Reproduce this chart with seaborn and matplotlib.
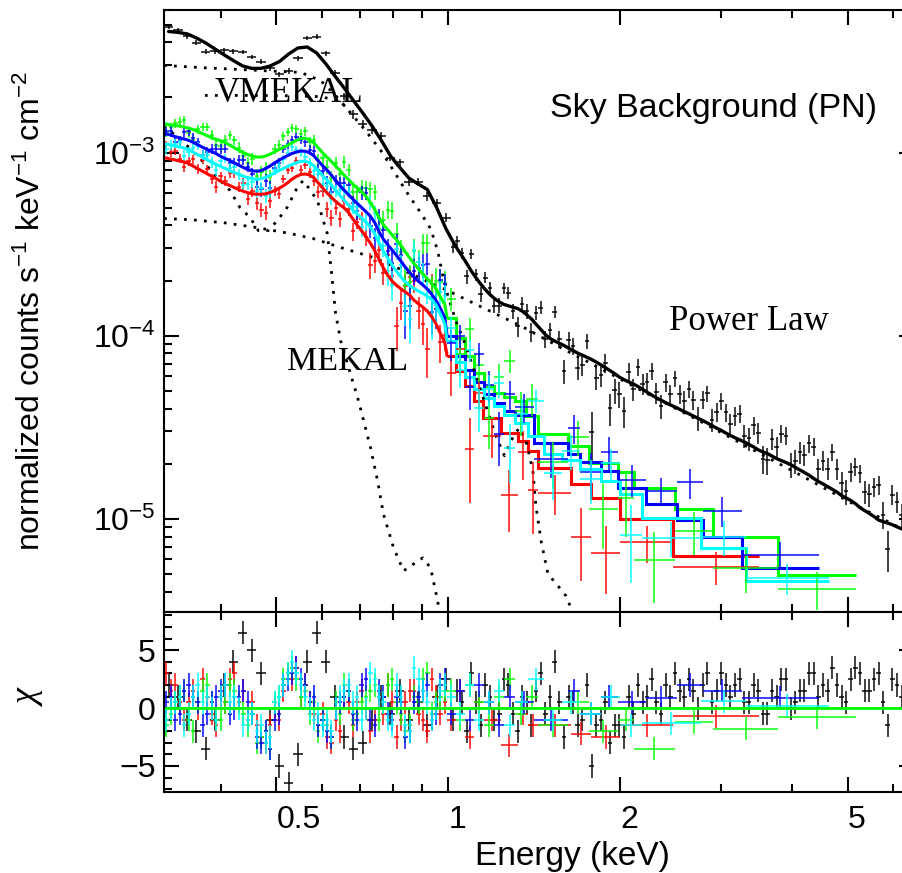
import numpy as np
import matplotlib
matplotlib.use("Agg")
import matplotlib.pyplot as plt
import matplotlib.ticker as mticker
import seaborn as sns

sns.set_theme(style="ticks")
plt.rcParams["font.family"] = ["Liberation Sans", "DejaVu Sans"]
plt.rcParams["mathtext.fontset"] = "custom"
plt.rcParams["mathtext.rm"] = "Liberation Sans"
plt.rcParams["mathtext.it"] = "Liberation Sans:italic"
plt.rcParams["mathtext.bf"] = "Liberation Sans:bold"
for key in ["text.color", "axes.labelcolor", "xtick.color", "ytick.color", "axes.edgecolor"]:
    plt.rcParams[key] = "black"

# counts s^-1 keV^-1 cm^-2 are kept in units of 1e-3
scale = 1e-3

# ---- black spectrum (sky background, PN) ----
black_edges = [0.318, 0.330, 0.343, 0.356, 0.369, 0.383, 0.398, 0.413, 0.428, 0.445,
               0.461, 0.479, 0.497, 0.516, 0.535, 0.556, 0.577, 0.599, 0.621, 0.645,
               0.670, 0.695, 0.721, 0.749, 0.777, 0.807, 0.837, 0.869, 0.902, 0.936,
               0.972,
               1.009, 1.028, 1.047, 1.067, 1.087, 1.107, 1.128, 1.149, 1.171, 1.193,
               1.216, 1.239, 1.262, 1.286, 1.310, 1.334, 1.359, 1.385, 1.411, 1.438,
               1.465, 1.492, 1.520, 1.549, 1.578, 1.608, 1.638, 1.669, 1.700, 1.732,
               1.765, 1.798, 1.832, 1.866, 1.901, 1.937, 1.974, 2.011, 2.049, 2.088,
               2.127, 2.167, 2.207, 2.249, 2.291, 2.334, 2.378, 2.423, 2.469, 2.516,
               2.563, 2.611, 2.660, 2.710, 2.761, 2.813, 2.866, 2.920, 2.975, 3.031,
               3.088, 3.146, 3.205, 3.265, 3.327, 3.390, 3.453, 3.518, 3.585, 3.652,
               3.721, 3.791, 3.862, 3.935, 4.009, 4.084, 4.161, 4.239, 4.319, 4.401,
               4.484, 4.568, 4.654, 4.742, 4.831, 4.922, 5.014, 5.109, 5.205, 5.303,
               5.403, 5.505, 5.608, 5.714, 5.821, 5.931, 6.042, 6.156, 6.272, 6.390,
               6.510]
black_model = [4.58, 4.53, 4.44, 4.22, 3.97, 3.68, 3.41, 3.18, 2.97, 2.88,
               2.88, 2.97, 3.14, 3.45, 3.72, 3.77, 3.50, 3.06, 2.62, 2.25,
               1.92, 1.65, 1.40, 1.17, 0.96, 0.83, 0.726, 0.673, 0.628, 0.501,
               0.384,
               0.327, 0.297, 0.272, 0.248, 0.2255, 0.2075, 0.192, 0.179, 0.168, 0.1595,
               0.1530, 0.1482, 0.1455, 0.1430, 0.1407, 0.1362, 0.1300, 0.1233, 0.1155, 0.1083,
               0.1014, 0.0966, 0.0936, 0.0909, 0.0884, 0.0856, 0.0828, 0.0803, 0.0783, 0.0762,
               0.0741, 0.0718, 0.0693, 0.0669, 0.0644, 0.0620, 0.0594, 0.0575, 0.0560, 0.0545,
               0.0528, 0.0510, 0.0491, 0.0474, 0.0458, 0.0444, 0.0431, 0.0419, 0.0408, 0.0396,
               0.0385, 0.0375, 0.0364, 0.0354, 0.0344, 0.0334, 0.0323, 0.0313, 0.0304, 0.0294,
               0.0285, 0.0277, 0.0270, 0.0263, 0.0255, 0.0247, 0.0238, 0.0232, 0.0227, 0.0220,
               0.0213, 0.0208, 0.0203, 0.0198, 0.0191, 0.0185, 0.0179, 0.0173, 0.0166, 0.0160,
               0.0155, 0.0150, 0.0145, 0.0140, 0.0134, 0.0130, 0.0126, 0.0121, 0.0115, 0.0111,
               0.0107, 0.0103, 0.00985, 0.00965, 0.00948, 0.00928, 0.00904, 0.00882, 0.00860, 0.00838]
black_chi = [2, 1, -1, -2, -3.5, -1, 2, 4, 6.5, 5,
             3, -1, -5, -6.5, -4, 4, 6.5, 4, 1, -2.5,
             -3.5, -3, -1, 1, -0.5, 1.5, -1, 0.5, -1.5, 1,
             2.5,
             -1, 1.5, 0.5, -2, 3, 0.5, -1.5, 2, 1, -1,
             -0.5, 2.5, 2, -0.5, -2, 1, 0.5, -1.5, 1.5, 3,
             -0.5, 1, 4, 0.5, -2.5, 1, 0.5, -1.5, -1, 2,
             -5, -1.5, -1, 0.5, -3, -1.5, -1.5, -2.5, 1, -0.5,
             2, 0.5, 1, 2.5, 0.5, -0.5, 2, 1, 3, 1.5,
             1, 2.5, 1.5, 0, 2, 3, 0.5, 1.5, 3, 2,
             1, 2, 2.5, 0.5, 0.5, 2, 1.5, -0.5, -0.5, 1.5,
             1, 2.5, 2.5, 0, 0.5, 1.5, 1.5, 3, 3, 1,
             2, 1.5, 3.5, 2, 1, 0.5, 2.5, 3.5, 3, 1.5,
             1.5, 2.5, 3, 0.5, -1.5, 2.5, 2, 1, 1.5, 2.5]
black_err = [0.03, 0.03, 0.03, 0.03, 0.03, 0.03, 0.03, 0.03, 0.03, 0.03,
             0.03, 0.03, 0.03, 0.03, 0.03, 0.03, 0.035, 0.035, 0.04, 0.04,
             0.045, 0.045, 0.05, 0.05, 0.045, 0.045, 0.05, 0.05, 0.055, 0.055,
             0.06,
             0.07, 0.07, 0.075, 0.075, 0.08, 0.08, 0.08, 0.08, 0.085, 0.085,
             0.09, 0.09, 0.09, 0.09, 0.10, 0.10, 0.10, 0.10, 0.105, 0.105,
             0.105, 0.105, 0.11, 0.11, 0.11, 0.11, 0.115, 0.115, 0.115, 0.115,
             0.12, 0.12, 0.12, 0.12, 0.125, 0.125, 0.13, 0.13, 0.13, 0.13,
             0.14, 0.14, 0.14, 0.14, 0.14, 0.14, 0.145, 0.145, 0.145, 0.145,
             0.145, 0.145, 0.15, 0.15, 0.15, 0.15, 0.15, 0.15, 0.15, 0.15,
             0.155, 0.155, 0.155, 0.155, 0.155, 0.155, 0.16, 0.16, 0.16, 0.16,
             0.16, 0.16, 0.16, 0.16, 0.165, 0.165, 0.165, 0.165, 0.165, 0.165,
             0.17, 0.17, 0.17, 0.17, 0.17, 0.17, 0.17, 0.17, 0.18, 0.18,
             0.18, 0.18, 0.185, 0.185, 0.185, 0.185, 0.185, 0.185, 0.19, 0.19]

# ---- the four coloured spectra share the soft-band binning ----
low_edges = [0.318, 0.324, 0.330, 0.336, 0.342, 0.348, 0.355, 0.361, 0.368, 0.375,
             0.382, 0.389, 0.396, 0.403, 0.411, 0.418, 0.426, 0.434, 0.442, 0.450,
             0.458, 0.466, 0.475, 0.483, 0.492, 0.501, 0.510, 0.519, 0.528, 0.537,
             0.547, 0.557, 0.567, 0.577, 0.587, 0.597, 0.608, 0.619, 0.630, 0.641,
             0.652, 0.663, 0.675, 0.687, 0.699, 0.711, 0.724, 0.737, 0.750, 0.763,
             0.777, 0.791, 0.805, 0.819, 0.834, 0.849, 0.864, 0.879, 0.895, 0.911,
             0.927, 0.943, 0.960, 0.977, 0.995]
low_err = [0.06, 0.06, 0.06, 0.06, 0.06, 0.06, 0.06, 0.06, 0.06, 0.06,
           0.065, 0.065, 0.065, 0.065, 0.065, 0.065, 0.07, 0.07, 0.07, 0.07,
           0.07, 0.07, 0.07, 0.07, 0.065, 0.065, 0.06, 0.06, 0.06, 0.06,
           0.06, 0.06, 0.065, 0.065, 0.07, 0.07, 0.075, 0.075, 0.08, 0.08,
           0.09, 0.09, 0.095, 0.095, 0.105, 0.105, 0.12, 0.12, 0.13, 0.13,
           0.145, 0.145, 0.16, 0.16, 0.17, 0.17, 0.18, 0.18, 0.19, 0.19,
           0.2, 0.2, 0.21, 0.21]

red_hi_edges = [1.03, 1.07, 1.11, 1.149, 1.236, 1.324, 1.38, 1.435, 1.64, 1.778, 2.0, 2.476, 3.49]
red_model = [0.933, 0.921, 0.910, 0.899, 0.888, 0.869, 0.842, 0.815, 0.790, 0.765,
             0.742, 0.719, 0.697, 0.677, 0.661, 0.644, 0.628, 0.614, 0.603, 0.595,
             0.592, 0.592, 0.595, 0.605, 0.620, 0.638, 0.658, 0.684, 0.715, 0.740,
             0.759, 0.763, 0.754, 0.727, 0.682, 0.641, 0.602, 0.568, 0.540, 0.517,
             0.498, 0.470, 0.433, 0.401, 0.374, 0.347, 0.320, 0.291, 0.260, 0.234,
             0.213, 0.198, 0.188, 0.180, 0.173, 0.166, 0.156, 0.149, 0.143, 0.136,
             0.127, 0.116, 0.103, 0.0917,
             0.0778, 0.0644, 0.0533, 0.0441, 0.0356, 0.0295, 0.0267, 0.0235, 0.0190, 0.0155,
             0.0130, 0.0100, 0.00628]
red_chi = [3, 1.5, 2, 0.5, -1, 0.5, 1.5, 0, 2.5, 1,
           -0.5, -1.5, 1, 0.5, 2.5, 3, 0.5, 1.5, -1, 0.5,
           -1.5, -2.5, -3, -1.5, 0, -1, 1.5, 3, 2.5, 3.5,
           1, 2, 0.5, -0.5, -1.5, -0.5, -2.5, -3, -1, -2,
           1, 0.5, -1.5, 0.5, 1.5, 0, -2, -1, 1, -0.5,
           2, 0.5, -2.5, -1, 0.5, 1.5, 1.5, -0.5, -1, -2,
           2.5, 1, -0.5, 0.5,
           -1, 1.5, -2.5, 0.5, -1, -3.2, -0.5, -1.5, -1.5, -2.2, -2.5, -1.5, -0.7]
red_hi_err = [0.2, 0.21, 0.22, 0.22, 0.2, 0.17, 0.26, 0.26, 0.18, 0.22, 0.2, 0.17, 0.18]

green_hi_edges = [1.03, 1.07, 1.11, 1.155, 1.20, 1.25, 1.31, 1.37, 1.435, 1.62, 1.76, 1.98,
                  2.115, 2.49, 2.91, 3.78, 5.16]
green_model = [1.43, 1.415, 1.405, 1.393, 1.378, 1.358, 1.333, 1.303, 1.268, 1.235,
               1.205, 1.18, 1.16, 1.133, 1.098, 1.063, 1.028, 0.998, 0.975, 0.957,
               0.945, 0.945, 0.957, 0.979, 1.010, 1.038, 1.065, 1.096, 1.131, 1.163,
               1.193, 1.197, 1.174, 1.129, 1.060, 0.998, 0.943, 0.892, 0.843, 0.796,
               0.752, 0.711, 0.672, 0.638, 0.611, 0.576, 0.534, 0.489, 0.440, 0.403,
               0.378, 0.354, 0.333, 0.310, 0.286, 0.265, 0.247, 0.231, 0.217, 0.2045,
               0.1935, 0.180, 0.163, 0.148,
               0.1254, 0.0975, 0.0778, 0.0628, 0.0533, 0.0488, 0.0464, 0.0441, 0.0366, 0.0291,
               0.0251, 0.0202, 0.0181, 0.0148, 0.01135, 0.00798, 0.00494]
green_chi = [-1.5, -0.5, 0.5, 1, 1.5, -1, -2, 0.5, 1.5, 2,
             0.5, -1, -1, 0.5, 2, 1.5, 0.5, -0.5, -1.5, -0.5,
             -3, -2.5, -2, -3.5, 0.5, 1, 2.5, 3, 3.5, 2.5,
             1, 1.5, -0.5, 0.5, -2, -1, -1.5, -2.5, 0.5, -0.5,
             2, 1.5, -1, -0.5, 0.5, 1, 1.5, 2, -1, 0.5,
             2, 2.5, 0.5, -0.5, -2, -1.5, 1, 0.5, 2.5, 3,
             -0.5, 0.5, 1, 1.5,
             1.5, -1, 2, 0.5, -1.5, 1, 2.5, -0.5, 1, -1.5, 0.5, -2, -1, -3.5, -1.2, -1.8, -0.8]
green_hi_err = [0.18, 0.19, 0.2, 0.21, 0.22, 0.22, 0.23, 0.24, 0.24, 0.2, 0.24, 0.22,
                0.28, 0.17, 0.2, 0.18, 0.2]

blue_hi_edges = [1.03, 1.07, 1.11, 1.155, 1.20, 1.25, 1.31, 1.41, 1.62, 1.70, 1.85, 1.98,
                 2.22, 2.51, 2.79, 3.26, 4.46]
blue_model = [1.266, 1.243, 1.220, 1.201, 1.186, 1.164, 1.135, 1.103, 1.068, 1.038,
              1.013, 0.985, 0.954, 0.928, 0.905, 0.879, 0.852, 0.828, 0.807, 0.795,
              0.790, 0.797, 0.818, 0.844, 0.877, 0.908, 0.937, 0.963, 0.988, 1.006,
              1.019, 1.016, 0.997, 0.958, 0.900, 0.848, 0.801, 0.752, 0.702, 0.659,
              0.622, 0.588, 0.556, 0.527, 0.501, 0.475, 0.449, 0.414, 0.369, 0.336,
              0.313, 0.2925, 0.2735, 0.255, 0.236, 0.221, 0.208, 0.198, 0.189, 0.1795,
              0.1685, 0.1556, 0.141, 0.125,
              0.1000, 0.0778, 0.0652, 0.0561, 0.0482, 0.0431, 0.0389, 0.0370, 0.0260, 0.0227,
              0.0205, 0.0183, 0.01476, 0.01208, 0.00988, 0.00798, 0.00540]
blue_chi = [0.5, 1, -1, -0.5, 1.5, 2, 1, 0.5, -1.5, -0.5,
            0.5, 1, 1.5, 2, -0.5, 0, 1, 1.5, 0.5, -0.5,
            -2.5, -3, -2, -3.5, -1, -0.5, 2, 2.5, 3, 3.5,
            2.5, 2, 0.5, 1, -1.5, -1, -2, -2.5, 0, 0.5,
            1, 1.5, -0.5, -1, 2, 2.5, -1, -1.5, 1.5, 1,
            -0.5, -1, 1, 0.5, -2.5, -2, 0.5, 1, 1.5, 2,
            -1, -0.5, 2, 2.5,
            -0.5, 1.5, -1, 2, 0.5, -1.5, 1, 0.5, -1, 1.5, -0.5, 1, 0.5, 0.9, 2, 1.5, 0.9]
blue_hi_err = [0.18, 0.19, 0.2, 0.21, 0.22, 0.22, 0.23, 0.2, 0.18, 0.25, 0.24, 0.26,
               0.22, 0.2, 0.3, 0.26, 0.2]

cyan_hi_edges = [1.03, 1.07, 1.11, 1.155, 1.20, 1.25, 1.31, 1.38, 1.47, 1.58, 1.70, 1.85,
                 2.0, 2.18, 2.77, 3.32, 4.63]
cyan_model = [1.113, 1.099, 1.085, 1.071, 1.058, 1.035, 1.003, 0.972, 0.942, 0.913,
              0.885, 0.860, 0.839, 0.818, 0.797, 0.778, 0.759, 0.742, 0.728, 0.719,
              0.714, 0.719, 0.732, 0.751, 0.775, 0.797, 0.818, 0.839, 0.860, 0.879,
              0.896, 0.896, 0.879, 0.845, 0.794, 0.748, 0.707, 0.664, 0.619, 0.581,
              0.549, 0.517, 0.486, 0.460, 0.440, 0.417, 0.392, 0.360, 0.321, 0.289,
              0.264, 0.242, 0.224, 0.209, 0.196, 0.187, 0.181, 0.175, 0.170, 0.164,
              0.158, 0.147, 0.131, 0.116,
              0.0939, 0.0721, 0.0597, 0.0513, 0.0458, 0.0414, 0.0370, 0.0335, 0.0284, 0.0227,
              0.0210, 0.0188, 0.0161, 0.0137, 0.0101, 0.00695, 0.00458]
cyan_chi = [-1, 0, 0.5, 1, -1.5, -0.5, 1, 2, 0.5, 1,
            0, -1, 1, 2, 0.5, 1, 0, -1.5, -1, -0.5,
            -2, -1.5, -3, -2.5, 0.5, 1, 2, 3, 4, 3,
            2, 1, 0, -1, -0.5, -1.5, -1, -2, 0, 1,
            1.5, 2, 0.5, 1, -1, 0, 3, 2.5, 1, 0.5,
            -1, -1.5, 2, 1, -1.5, -2, 3.5, 2.5, 1.5, 0.5,
            -1, 0, 1.5, 2,
            1, -0.5, 2, -1, 0.5, 1.5, -1.5, 0.5, 2.5, -1, 0.5, -0.5, 1, -1.5, -1.3, 0.6, 0.2]
cyan_hi_err = [0.18, 0.19, 0.2, 0.21, 0.22, 0.22, 0.23, 0.23, 0.22, 0.22, 0.24, 0.24,
               0.25, 0.27, 0.17, 0.25, 0.2]

# ---- model components (dotted) ----
vmekal_energy = [0.318, 0.368, 0.432, 0.508, 0.551, 0.598, 0.635, 0.674, 0.716, 0.761,
                 0.802, 0.842, 0.894, 0.931, 0.958, 0.978, 0.998, 1.03, 1.073, 1.117,
                 1.163, 1.211, 1.254, 1.287, 1.33, 1.367, 1.406, 1.423, 1.453, 1.494,
                 1.556, 1.607, 1.652]
vmekal_flux = [2.99, 2.91, 2.84, 2.77, 2.74, 2.47, 2.05, 1.65, 1.32, 1.03,
               0.797, 0.620, 0.470, 0.384, 0.291, 0.213, 0.166, 0.121, 0.0881, 0.0604,
               0.0414, 0.0284, 0.0221, 0.0267, 0.0314, 0.0267, 0.0183, 0.0118, 0.00759, 0.00500,
               0.00430, 0.00379, 0.00306]
vmekal2_energy = [0.375, 0.450, 0.529, 0.598, 0.648, 0.674]
vmekal2_flux = [2.05, 2.05, 2.04, 2.02, 1.90, 1.65]
mekal_energy = [0.318, 0.346, 0.375, 0.394, 0.415, 0.432, 0.450, 0.465, 0.484, 0.502,
                0.522, 0.544, 0.557, 0.569, 0.590, 0.602, 0.614, 0.624, 0.635, 0.648,
                0.674, 0.694, 0.711, 0.731, 0.752, 0.770, 0.802, 0.835, 0.870, 0.902,
                0.931, 0.958, 0.967]
mekal_flux = [1.40, 1.12, 0.871, 0.730, 0.620, 0.500, 0.441, 0.375, 0.375, 0.425,
              0.500, 0.644, 0.703, 0.644, 0.547, 0.441, 0.361, 0.227, 0.132, 0.0939,
              0.0620, 0.0458, 0.0343, 0.0244, 0.0161, 0.0106, 0.00695, 0.00520, 0.00568, 0.00612,
              0.00540, 0.00356, 0.0029]
powerlaw_energy = [0.318, 0.353, 0.404, 0.463, 0.529, 0.580, 0.648, 0.740, 0.859, 0.998,
                   1.140, 1.340, 1.574, 1.85, 2.265, 2.77, 3.39, 4.15, 5.08, 6.27, 6.53]
powerlaw_flux = [0.436, 0.430, 0.414, 0.389, 0.361, 0.339, 0.303, 0.267, 0.218, 0.176,
                 0.144, 0.113, 0.0860, 0.0660, 0.0470, 0.0339, 0.0241, 0.0172, 0.0122, 0.00871,
                 0.0083]


def spectrum(edges, model, chi, frac):
    edges = np.asarray(edges)
    lo, hi = edges[:-1], edges[1:]
    centre = np.sqrt(lo * hi)
    model = np.asarray(model) * scale
    chi = np.asarray(chi, dtype=float)
    err = np.asarray(frac) * model
    return dict(edges=edges, lo=lo, hi=hi, centre=centre, model=model,
                err=err, data=model + chi * err, chi=chi)


black = spectrum(black_edges, black_model, black_chi, black_err)
colour_sets = [
    ("#ff0000", spectrum(low_edges + red_hi_edges, red_model, red_chi, low_err + red_hi_err)),
    ("#00ff00", spectrum(low_edges + green_hi_edges, green_model, green_chi, low_err + green_hi_err)),
    ("#0000ff", spectrum(low_edges + blue_hi_edges, blue_model, blue_chi, low_err + blue_hi_err)),
    ("#00ffff", spectrum(low_edges + cyan_hi_edges, cyan_model, cyan_chi, low_err + cyan_hi_err)),
]
n_low = len(low_edges) - 1

fig = plt.figure(figsize=(9.02, 8.73), dpi=100)
ax = fig.add_axes([164 / 902, 1 - 612 / 873, 750 / 902, 602 / 873])
axr = fig.add_axes([164 / 902, 1 - 792 / 873, 750 / 902, 180 / 873], sharex=ax)


def draw_points(a, s, col, y, yerr):
    a.errorbar(s["centre"], y, xerr=[s["centre"] - s["lo"], s["hi"] - s["centre"]],
               yerr=yerr, fmt="none", ecolor=col, elinewidth=1.4, alpha=0.75)


# main panel
draw_points(ax, black, "black", black["data"], black["err"])
sns.lineplot(x=black["centre"], y=black["model"], ax=ax, color="black", lw=2.4,
             sort=False, estimator=None)
for e, f in [(vmekal_energy, vmekal_flux), (vmekal2_energy, vmekal2_flux),
             (mekal_energy, mekal_flux), (powerlaw_energy, powerlaw_flux)]:
    sns.lineplot(x=e, y=np.asarray(f) * scale, ax=ax, color="black", lw=2,
                 linestyle=(0, (1, 2.6)), sort=False, estimator=None)
for col, s in colour_sets:
    draw_points(ax, s, col, s["data"], s["err"])
for col, s in colour_sets:
    # narrow soft-band bins drawn as a smooth curve, wide hard-band bins as steps
    xs = np.concatenate([[s["edges"][0]], s["centre"][:n_low], [s["edges"][n_low]]])
    ys = np.concatenate([[s["model"][0]], s["model"][:n_low], [s["model"][n_low]]])
    sns.lineplot(x=xs, y=ys, ax=ax, color=col, lw=2.2, sort=False, estimator=None)
    ax.stairs(s["model"][n_low:], s["edges"][n_low:], color=col, lw=2.2, baseline=None)

# residual panel
draw_points(axr, black, "black", black["chi"], 1.0)
for col, s in colour_sets:
    draw_points(axr, s, col, s["chi"], 1.0)
axr.axhline(0, color="#00ff00", lw=2)

ax.set_xscale("log")
ax.set_yscale("log")
ax.set_xlim(0.318, 6.53)
ax.set_ylim(3.1e-6, 6.0e-3)
axr.set_ylim(-7.25, 8.3)

ax.xaxis.set_major_locator(mticker.FixedLocator([0.5, 1, 2, 5]))
ax.xaxis.set_minor_locator(mticker.FixedLocator([0.4, 0.6, 0.7, 0.8, 0.9, 3, 4, 6]))
ax.xaxis.set_major_formatter(mticker.FixedFormatter(["0.5", "1", "2", "5"]))
ax.xaxis.set_minor_formatter(mticker.NullFormatter())
ax.yaxis.set_major_locator(mticker.LogLocator(base=10, numticks=10))
ax.yaxis.set_minor_locator(mticker.LogLocator(base=10, subs=np.arange(2, 10), numticks=20))
ax.yaxis.set_minor_formatter(mticker.NullFormatter())
axr.yaxis.set_major_locator(mticker.MultipleLocator(5))
axr.yaxis.set_minor_locator(mticker.MultipleLocator(1))

for a in (ax, axr):
    a.tick_params(which="both", direction="in", top=True, right=True, width=1.5,
                  labelsize=23, colors="black")
    a.tick_params(which="major", length=11)
    a.tick_params(which="minor", length=5.5)
    a.tick_params(axis="y", pad=6)
    a.tick_params(axis="x", pad=9)
    for sp in a.spines.values():
        sp.set_linewidth(1.5)
        sp.set_color("black")
    a.grid(False)
ax.tick_params(labelbottom=False)
plt.setp(axr.get_xticklabels(), ha="left")

ax.set_ylabel("normalized counts s$^{-1}$ keV$^{-1}$ cm$^{-2}$", fontsize=23)
ax.yaxis.set_label_coords(-0.156, 0.5)
axr.set_ylabel("χ", fontsize=26, family=["Liberation Serif", "DejaVu Serif"], style="italic")
axr.yaxis.set_label_coords(-0.158, 0.52)
axr.set_xlabel("Energy (keV)", fontsize=24)
axr.xaxis.set_label_coords(0.545, -0.27)

serif = ["Liberation Serif", "DejaVu Serif"]
ax.text(0.068, 0.847, "VMEKAL", transform=ax.transAxes, fontsize=25, family=serif,
        va="baseline", ha="left")
ax.text(0.164, 0.402, "MEKAL", transform=ax.transAxes, fontsize=24.5, family=serif,
        va="baseline", ha="left")
ax.text(0.673, 0.468, "Power Law", transform=ax.transAxes, fontsize=25, family=serif,
        va="baseline", ha="left")
ax.text(0.515, 0.822, "Sky Background (PN)", transform=ax.transAxes, fontsize=24.5,
        va="baseline", ha="left")

fig.savefig("out.png", dpi=100)
